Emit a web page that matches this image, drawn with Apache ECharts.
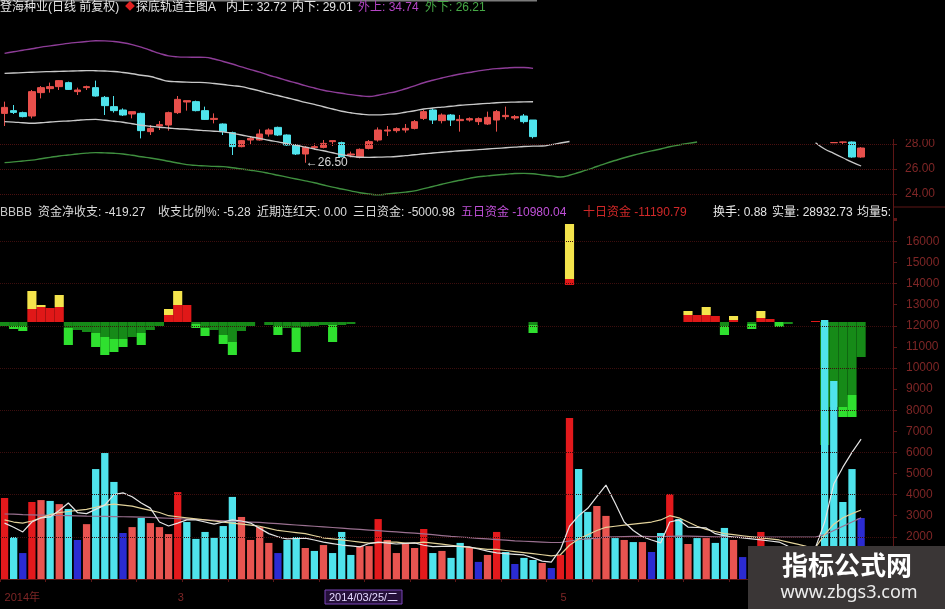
<!DOCTYPE html>
<html><head><meta charset="utf-8">
<script src="https://cdn.jsdelivr.net/npm/echarts@6/dist/echarts.min.js"></script>
<style>html,body{margin:0;padding:0;background:#000;}#c{width:945px;height:609px;}</style>
</head><body><div id="c"></div>
<script>
// ---------- data ----------
const N = 98;                       // category slots (last 3 empty, before the axis)
const categories = Array.from({length: N}, (_, i) => String(i));
const bottomTickIdx = [0, 19, 61];
const bottomTickText = ['2014年', '3', '5'];
const priceTicks = [24, 26, 28];
const volGridTicks = [2000, 4000, 6000, 8000, 10000, 12000, 14000, 16000];

// candles [open, close, low, high]
const candlesLeft = [
 [30.45,30.93,29.44,31.39],[30.67,30.53,30.40,31.12],[30.51,30.19,30.13,30.59],[30.24,32.19,30.05,32.32],
 [32.11,32.51,31.65,32.64],[32.43,32.59,32.11,32.91],[32.59,33.07,32.32,33.12],[32.91,32.37,32.32,32.99],
 [32.19,32.32,31.92,32.51],[32.51,32.59,32.32,32.67],[32.51,31.84,31.79,33.07],[31.73,31.07,30.32,31.84],
 [30.99,30.67,30.51,31.84],[30.72,30.32,30.24,30.85],[30.40,30.59,30.05,30.59],[30.45,29.07,28.45,30.51],
 [28.99,29.25,28.72,29.52],[29.44,29.55,29.12,29.84],[29.52,30.51,29.07,30.59],[30.51,31.57,30.40,31.84],
 [31.36,31.47,30.67,31.47],[31.39,30.67,30.61,31.47],[30.67,29.97,29.92,30.99],[29.97,30.05,29.65,30.45],
 [29.60,28.99,28.72,29.65],[28.91,27.79,27.12,28.99],[27.79,28.27,27.73,28.32],[28.32,28.45,28.00,28.59],
 [28.32,28.80,28.27,29.17],[28.80,29.12,28.59,29.25],[29.33,28.72,28.64,29.39],[28.72,27.92,27.84,28.77],
 [27.92,27.20,27.12,28.00],[27.20,27.73,26.50,27.84],[27.71,27.79,27.52,28.05],[27.73,28.05,27.65,28.32],
 [28.19,28.27,27.84,28.27],[28.11,26.99,26.93,28.19],[27.12,27.20,26.93,27.39],[26.93,27.57,26.85,27.65],
 [27.65,28.19,27.57,28.32],[28.32,29.12,28.19,29.33],[29.04,29.12,28.64,29.44],[29.07,29.23,28.91,29.33],
 [29.12,29.25,28.91,29.60],[29.25,29.79,29.17,29.92],[30.05,30.59,29.92,30.72],[30.72,29.92,29.60,30.85],
 [29.87,30.32,29.65,30.45],[30.32,29.92,29.44,30.40],[29.87,29.97,28.99,30.32],[29.92,30.03,29.79,30.13],
 [29.79,30.03,29.52,30.13],[29.60,30.13,29.52,30.59],[29.92,30.59,28.99,30.72],[30.19,30.29,29.97,30.99],
 [30.08,30.19,29.92,30.32],[30.24,29.79,29.65,30.40],[29.92,28.59,28.45,29.92]
];
const candlesRightStart = 91;
const candlesRight = [[28.10,28.12,28.08,28.14],[28.14,28.16,27.95,28.18],[28.16,26.96,26.90,28.20],[26.96,27.68,26.90,27.75]];
const lowMarkIdx = 33, lowMarkValue = 26.50;

const outerUp = [35.25,35.38,35.5,35.62,35.75,35.85,35.95,36.05,36.13,36.2,36.26,36.25,36.2,36.1,35.95,35.75,35.5,35.25,35.05,34.97,
 34.95,34.94,34.93,34.8,34.6,34.4,34.17,33.95,33.75,33.5,33.3,33.08,32.88,32.67,32.48,32.3,32.17,32.06,31.95,31.86,
 31.8,31.9,32.05,32.2,32.42,32.65,32.9,33.1,33.28,33.45,33.6,33.72,33.85,33.95,34.03,34.08,34.12,34.12,34.05];
const innerUp = [33.65,33.68,33.71,33.74,33.77,33.79,33.81,33.83,33.85,33.87,33.86,33.84,33.8,33.72,33.62,33.5,33.4,33.2,33.02,32.98,
 32.95,32.93,32.91,32.84,32.76,32.67,32.59,32.42,32.24,32.05,31.88,31.7,31.52,31.33,31.17,30.98,30.8,30.62,30.5,30.4,
 30.33,30.33,30.37,30.42,30.54,30.66,30.8,30.88,30.95,31.02,31.1,31.15,31.2,31.25,31.3,31.33,31.35,31.37,31.38];
const innerDown = [29.79,29.75,29.7,29.66,29.7,29.76,29.81,29.84,29.9,29.95,29.97,29.9,29.82,29.74,29.62,29.5,29.42,29.34,29.28,29.22,
 29.18,29.12,29.07,29.02,28.97,28.85,28.72,28.58,28.45,28.3,28.17,28.03,27.9,27.75,27.6,27.46,27.3,27.15,27.02,26.94,
 26.93,26.95,26.97,27.0,27.07,27.14,27.22,27.28,27.34,27.4,27.46,27.5,27.55,27.6,27.65,27.7,27.75,27.8,27.83,
 27.84,27.95,28.08,28.2];
const innerDownRightStart = 89;
const innerDownRight = [28.1,27.6,27.25,26.9,26.55,26.24];
const outerDown = [26.51,26.57,26.64,26.71,26.82,26.93,27.04,27.12,27.2,27.27,27.31,27.29,27.26,27.2,27.1,26.98,26.88,26.76,26.62,26.48,
 26.35,26.29,26.25,26.21,26.19,26.1,26.0,25.9,25.79,25.65,25.5,25.35,25.2,25.05,24.9,24.72,24.55,24.4,24.25,24.1,
 24.0,23.93,24.0,24.08,24.15,24.25,24.43,24.6,24.78,24.95,25.1,25.25,25.38,25.45,25.52,25.58,25.64,25.65,25.62,
 25.52,25.45,25.36,25.5,25.72,25.95,26.2,26.45,26.68,26.9,27.1,27.28,27.45,27.6,27.78,27.92,28.05,28.16];

const volume = [3840,1990,1230,3650,3740,3700,3550,3320,1850,2600,
 5210,5970,4600,2180,2460,2890,2650,2460,2130,4120,
 2700,1900,2230,1950,2510,3890,2940,1850,2460,1710,
 1230,1850,1990,1470,1330,1610,1230,2230,1140,1560,
 1560,2840,1850,1230,1660,1470,2370,1230,1330,1000,
 1710,1500,810,1140,2230,1280,710,1000,900,760,
 520,1140,7630,5210,3180,3460,2990,1940,1850,1750,
 1750,1280,2180,4030,2840,1660,1940,1940,1710,2420,
 1850,1040,1300,2230,1200,1000,900,1100,1000,1200,
 12270,9380,3650,5210,2890];
// H = strong up, U = up, D = down, L = low-volume
const volType = ('HDLHUDUDLU'+'DDDLUDUUUH'+'DDDDDDUUUU'+'LDDUDUDDDU'+'UHUUUUHDUD'+
 'DULUHDLDDU'+'LHHDDUUDUD'+'ULDHDUDUDD'+'ULDHUDUDUD'+'DDDDL').split('');
const volMA5 = [2650,2450,2230,2700,2900,2940,3250,3600,3150,3100,
 3300,3500,4000,4080,3900,3600,3360,2700,2510,2650,
 2800,2800,2700,2600,2700,2800,2750,2650,2400,2150,
 2000,1900,1920,1940,1850,1750,1680,1610,1570,1520,
 1680,1750,1700,1660,1690,1710,1600,1530,1550,1560,
 1540,1520,1420,1320,1240,1200,1170,1140,1000,850,
 800,1400,2500,3000,3350,3900,4450,3600,2700,2300,
 2000,1850,1710,2700,2800,2460,2440,2420,2150,2050,
 1990,1950,1900,1850,1800,1750,1550,1470,1470,1500,
 2700,4500,5300,6000,6630];
const volMA10 = [2800,2700,2650,2750,2900,3050,3150,3200,3250,3300,
 3400,3500,3550,3500,3450,3350,3250,3150,3000,2950,
 2900,2850,2800,2750,2700,2650,2600,2550,2500,2400,
 2300,2250,2200,2150,2050,1950,1900,1850,1800,1750,
 1700,1720,1750,1750,1700,1700,1750,1700,1650,1600,
 1550,1500,1450,1400,1400,1350,1300,1250,1200,1150,
 1100,1150,1600,1900,2100,2300,2450,2500,2550,2600,
 2650,2700,2800,3000,2900,2700,2500,2350,2250,2150,
 2100,2050,2000,1950,1900,1850,1750,1650,1550,1500,
 2100,2600,2900,3100,3270];
const volMA30 = [3080,3070,3050,3040,3030,3020,3010,3000,2990,2980,
 2975,2970,2960,2950,2940,2930,2920,2900,2880,2860,
 2840,2820,2800,2780,2760,2740,2720,2700,2680,2650,
 2620,2590,2560,2530,2500,2470,2440,2410,2380,2350,
 2320,2290,2260,2230,2200,2170,2140,2100,2060,2020,
 1990,1960,1930,1900,1870,1840,1810,1790,1770,1750,
 1730,1730,1800,1860,1900,1940,1980,2000,2010,2020,
 2020,2010,2010,2020,2030,2030,2020,2010,2000,2000,
 1990,1990,1990,1990,1990,1990,1990,1990,1990,1990,
 2100,2300,2500,2700,2900];

// fund flow bars: [index, value]
const fundBase = [[62,370]];
const fundRed = [[3,130],[4,150],[5,140],[6,150],[18,70],[19,170],[20,170],[62,60],[75,70],[76,70],[77,70],[78,60],[80,20],[83,40],[84,30],[89,10]];
const fundYellow = [[3,180],[4,20],[6,120],[18,60],[19,140],[62,550],[75,40],[77,80],[80,40],[83,70]];
const fundDark = [[0,-40],[1,-40],[2,-40],[7,-60],[8,-80],[9,-100],[10,-110],[11,-150],[12,-170],[13,-170],[14,-150],[15,-110],[16,-80],[17,-40],
 [21,-20],[22,-60],[23,-80],[24,-130],[25,-200],[26,-90],[27,-40],[29,-30],[30,-40],[31,-60],[32,-60],[33,-50],[34,-40],[35,-30],[36,-30],[37,-30],[38,-20],
 [58,-30],[79,-40],[82,-20],[86,-20],[90,-1230],[91,-850],[92,-850],[93,-730],[94,-350]];
const fundBright = [[1,-30],[2,-50],[7,-170],[10,-140],[11,-180],[12,-130],[13,-80],[15,-120],[21,-40],[22,-80],[24,-90],[25,-130],
 [30,-90],[32,-240],[36,-170],[58,-80],[79,-90],[82,-50],[85,-50],[92,-100],[93,-220]];

// header texts
const priceHeader = [['登海种业(日线 前复权)', 0, '#e6e6e6'], ['探底轨道主图A', 136, '#e6e6e6'], ['内上: 32.72', 226, '#e6e6e6'],
 ['内下: 29.01', 292, '#e6e6e6'], ['外上: 34.74', 358, '#b444c4'], ['外下: 26.21', 425, '#46a846']];
const fundHeader = [['BBBB', 0, '#c8c8c8'], ['资金净收支: -419.27', 38, '#dcdcdc'], ['收支比例%: -5.28', 158, '#dcdcdc'],
 ['近期连红天: 0.00', 257, '#dcdcdc'], ['三日资金: -5000.98', 353, '#dcdcdc'], ['五日资金 -10980.04', 461, '#c050d8'],
 ['十日资金 -11190.79', 583, '#d02828'], ['换手: 0.88', 713, '#e6e6e6'], ['实量: 28932.73', 772, '#e6e6e6'], ['均量5:', 857, '#e6e6e6']];

// ---------- build ----------
function place(start, vals) { const a = new Array(N).fill(null); vals.forEach((v, k) => a[start + k] = v); return a; }
function sparse(pairs) { const a = new Array(N).fill('-'); pairs.forEach(p => a[p[0]] = p[1]); return a; }
const candleData = place(0, candlesLeft).map(v => v || '-');
candlesRight.forEach((v, k) => candleData[candlesRightStart + k] = v);
const innerDownData = place(0, innerDown);
innerDownRight.forEach((v, k) => innerDownData[innerDownRightStart + k] = v);

const RED_UP = '#e8504c', CYAN = '#4fe3ec';
const volColors = {H: '#e3191c', U: '#e85450', D: '#4fe3ec', L: '#2b2bd2'};
const volData = volume.map((v, i) => ({value: v, itemStyle: {color: volColors[volType[i]]}}));
const AXIS_RED = '#5e1616', LABEL_RED = '#7e2626';
const FONT = "'Liberation Sans', 'Noto Sans CJK SC', sans-serif";

const chart = echarts.init(document.getElementById('c'), null, {renderer: 'canvas'});
const txt = (t, x, y, fill, size) => ({type: 'text', z: 120, style: {text: t, x: x, y: y, fill: fill, font: (size || 12) + 'px ' + FONT, verticalAlign: 'middle'}});

const graphics = [
  {type: 'rect', z: 100, shape: {x: 537, y: 0, width: 408, height: 139}, style: {fill: '#000'}},
  {type: 'rect', z: 110, shape: {x: 0, y: 0, width: 537, height: 1.5}, style: {fill: '#7a7a7a'}},
  {type: 'rect', z: 110, shape: {x: 893, y: 206.5, width: 52, height: 1}, style: {fill: AXIS_RED}},
  {type: 'rect', z: 110, shape: {x: 893, y: 579, width: 1, height: 30}, style: {fill: AXIS_RED}},
  txt('◆', 125, 7, '#e02020', 10)
];
priceHeader.forEach(h => graphics.push(txt(h[0], h[1], 8, h[2], 12)));
fundHeader.forEach(h => graphics.push(txt(h[0], h[1], 213, h[2], 12)));
graphics.push(
  {type: 'rect', z: 110, shape: {x: 325, y: 590, width: 77, height: 14}, style: {fill: '#25103a', stroke: '#7b45b8', lineWidth: 1}},
  {type: 'text', z: 120, style: {text: '2014/03/25/二', x: 363.5, y: 597.5, fill: '#e4d8ff', font: '11px ' + FONT, align: 'center', verticalAlign: 'middle'}},
  {type: 'rect', z: 130, shape: {x: 748, y: 546, width: 197, height: 63}, style: {fill: '#3a3636'}},
  {type: 'text', z: 140, style: {text: '指标公式网', x: 847, y: 565, fill: '#ffffff', font: "bold 26px 'Noto Sans CJK SC'", align: 'center', verticalAlign: 'middle'}},
  {type: 'text', z: 140, style: {text: 'www.zbgs3.com', x: 849, y: 593, fill: '#ececec', font: "18px 'Noto Sans', sans-serif", align: 'center', verticalAlign: 'middle'}}
);

chart.setOption({
  backgroundColor: '#000',
  animation: false,
  grid: [
    {left: 0, right: 52, top: 15, height: 204},
    {left: 0, right: 52, top: 218, height: 361},
    {left: 0, right: 52, top: 218, height: 361}
  ],
  xAxis: [
    {type: 'category', gridIndex: 0, data: categories, show: false},
    {type: 'category', gridIndex: 1, data: categories, show: false},
    {type: 'category', gridIndex: 2, data: categories, position: 'bottom', offset: 9,
     axisLine: {lineStyle: {color: AXIS_RED}},
     axisTick: {show: true, interval: 4, length: 3, lineStyle: {color: AXIS_RED}},
     axisLabel: {interval: 0, align: 'left', margin: 4, color: LABEL_RED, fontSize: 11, fontFamily: FONT,
       formatter: (v, i) => { const k = bottomTickIdx.indexOf(i); return k >= 0 ? bottomTickText[k] : ''; }},
     splitLine: {show: false}}
  ],
  yAxis: [
    {type: 'value', gridIndex: 0, position: 'right', min: 22, max: 38.32, interval: 2,
     axisLine: {show: true, lineStyle: {color: AXIS_RED}},
     axisTick: {show: true, length: 4, lineStyle: {color: AXIS_RED}},
     splitLine: {show: false},
     axisLabel: {margin: 12, color: LABEL_RED, fontSize: 12, fontFamily: 'Liberation Sans, Arial',
       formatter: v => priceTicks.indexOf(v) >= 0 ? v.toFixed(2) : ''}},
    {type: 'value', gridIndex: 1, min: -2570, max: 1040, show: false, splitLine: {show: false}},
    {type: 'value', gridIndex: 2, position: 'right', min: 0, max: 17109, interval: 1000,
     axisLine: {show: true, lineStyle: {color: AXIS_RED}},
     axisTick: {show: true, length: 4, lineStyle: {color: AXIS_RED}},
     splitLine: {show: false},
     axisLabel: {margin: 13, color: LABEL_RED, fontSize: 12, fontFamily: 'Liberation Sans, Arial',
       formatter: v => (v >= 2000 && v <= 16000) ? String(v) : ''}}
  ],
  series: [
    {type: 'candlestick', xAxisIndex: 0, yAxisIndex: 0, data: candleData, barWidth: 7,
     itemStyle: {color: RED_UP, color0: CYAN, borderColor: RED_UP, borderColor0: CYAN, borderWidth: 1},
     markLine: {silent: true, symbol: 'none', label: {show: false},
       lineStyle: {type: 'dotted', color: '#4a1010', width: 1},
       data: priceTicks.map(v => ({yAxis: v}))},
     markPoint: {symbol: 'circle', symbolSize: 1, itemStyle: {color: 'rgba(0,0,0,0)'},
       label: {show: true, position: 'right', distance: 0, color: '#d8d8d8', fontSize: 12, fontFamily: 'Liberation Sans, Arial',
         formatter: '\u2190' + lowMarkValue.toFixed(2)},
       data: [{coord: [lowMarkIdx, lowMarkValue]}]}},
    {type: 'line', xAxisIndex: 0, yAxisIndex: 0, data: place(0, outerUp), symbol: 'none', smooth: true,
     lineStyle: {color: '#8e3d98', width: 1.4}},
    {type: 'line', xAxisIndex: 0, yAxisIndex: 0, data: place(0, innerUp), symbol: 'none', smooth: true,
     lineStyle: {color: '#c8c8c8', width: 1.3}},
    {type: 'line', xAxisIndex: 0, yAxisIndex: 0, data: innerDownData, symbol: 'none', smooth: true,
     lineStyle: {color: '#c8c8c8', width: 1.3}},
    {type: 'line', xAxisIndex: 0, yAxisIndex: 0, data: place(0, outerDown), symbol: 'none', smooth: true,
     lineStyle: {color: '#3f8f3f', width: 1.4}},

    {type: 'bar', xAxisIndex: 1, yAxisIndex: 1, stack: 'fund', barWidth: '100%', data: sparse(fundBase),
     itemStyle: {color: 'rgba(0,0,0,0)'}},
    {type: 'bar', xAxisIndex: 1, yAxisIndex: 1, stack: 'fund', barWidth: '100%', data: sparse(fundRed),
     itemStyle: {color: '#e01818'}},
    {type: 'bar', xAxisIndex: 1, yAxisIndex: 1, stack: 'fund', barWidth: '100%', data: sparse(fundYellow),
     itemStyle: {color: '#f4e44c'}},
    {type: 'bar', xAxisIndex: 1, yAxisIndex: 1, stack: 'fund', barWidth: '100%', data: sparse(fundDark),
     itemStyle: {color: '#168a18'}},
    {type: 'bar', xAxisIndex: 1, yAxisIndex: 1, stack: 'fund', barWidth: '100%', data: sparse(fundBright),
     itemStyle: {color: '#2fe02f'}},

    {type: 'bar', xAxisIndex: 2, yAxisIndex: 2, data: volData, barWidth: '80%',
     markLine: {silent: true, symbol: 'none', label: {show: false},
       lineStyle: {type: 'dotted', color: '#3c0e0e', width: 1},
       data: volGridTicks.map(v => ({yAxis: v}))}},
    {type: 'line', xAxisIndex: 2, yAxisIndex: 2, data: volMA30, symbol: 'none', lineStyle: {color: '#9a7090', width: 1.2}},
    {type: 'line', xAxisIndex: 2, yAxisIndex: 2, data: volMA10, symbol: 'none', lineStyle: {color: '#e2d29a', width: 1.2}},
    {type: 'line', xAxisIndex: 2, yAxisIndex: 2, data: volMA5, symbol: 'none', lineStyle: {color: '#e4e4e4', width: 1.2}}
  ],
  graphic: graphics
});
</script></body></html>
